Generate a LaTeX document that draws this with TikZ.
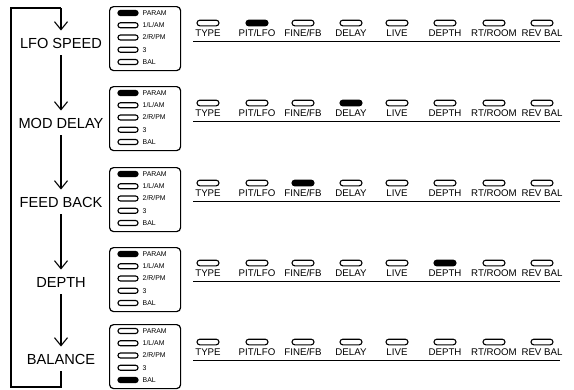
\documentclass[tikz,border=0pt]{standalone}
\usepackage{fontspec}
\setmainfont{Liberation Sans}
\usetikzlibrary{arrows.meta}
\tikzset{
  modelabel/.style={font=\fontsize{14.6}{16}\selectfont, inner xsep=0pt, inner ysep=7pt, text height=10.5pt, text depth=0pt},
  arr/.style={line width=1.1pt, -{Straight Barb[length=8pt,width=13pt,line width=1.1pt]}},
  flowline/.style={line width=1.1pt},
  panelbox/.style={draw, line width=1.2pt, rounded corners=4pt, minimum width=71pt, minimum height=64pt, inner sep=0pt, anchor=north west},
  boxledoff/.style={draw, line width=1.1pt, rounded corners=2.4pt, minimum width=20pt, minimum height=5pt, inner sep=0pt},
  boxledon/.style={boxledoff, fill=black},
  boxtag/.style={font=\fontsize{6.9}{7}\selectfont, inner sep=0pt, anchor=west},
  ledoff/.style={draw, line width=1.1pt, rounded corners=2.8pt, minimum width=22pt, minimum height=5.6pt, inner sep=0pt},
  ledon/.style={ledoff, fill=black},
  ledtag/.style={font=\fontsize{9.7}{10}\selectfont, inner sep=0pt},
  rule/.style={line width=1pt}
}
\begin{document}
\begin{tikzpicture}[x=1pt,y=-1pt]
\useasboundingbox[fill=white] (0,0) rectangle (574,389);
% rows: index / label y / box top / right led y / label / lit box item / lit right led
\foreach \r/\yl/\yb/\yr/\txt/\boxlit/\ledlit in {
  1/43/6/23/{LFO SPEED}/1/2,
  2/123/86/103/{MOD DELAY}/1/4,
  3/202/167/183/{FEED BACK}/1/3,
  4/282/247/263/{DEPTH}/1/6,
  5/359/324/342/{BALANCE}/5/0}{
  \node[modelabel] (lab\r) at (61,\yl) {\txt};
  \node[panelbox] (box\r) at (109,\yb) {};
  \foreach \k/\t in {1/PARAM,2/{1/L/AM},3/{2/R/PM},4/3,5/BAL}{
    \pgfmathsetmacro\yy{\yb+7+12.25*(\k-1)}
    \ifnum\k=\boxlit\def\st{boxledon}\else\def\st{boxledoff}\fi
    \node[\st] (bl\r-\k) at (128,\yy) {};
    \node[boxtag] (bt\r-\k) at (142.5,\yy) {\t};
  }
  \foreach \j/\x/\t in {1/208/TYPE,2/257/{PIT/LFO},3/303/{FINE/FB},4/351/DELAY,5/397/LIVE,6/445/DEPTH,7/494/{RT/ROOM},8/542/{REV BAL}}{
    \ifnum\j=\ledlit\def\st{ledon}\else\def\st{ledoff}\fi
    \node[\st] (led\r-\j) at (\x,\yr) {};
    \node[ledtag] (tag\r-\j) at (\x,\yr+10) {\t};
  }
  \coordinate (rl\r) at (193,\yr+18.5);
  \coordinate (rr\r) at (560,\yr+18.5);
  \draw[rule] (rl\r) -- (rr\r);
}
% flow arrows
\draw[arr] (lab1.south) -- (lab2.north);
\draw[arr] (lab2.south) -- (lab3.north);
\draw[arr] (lab3.south) -- (lab4.north);
\draw[arr] (lab4.south) -- (lab5.north);
% return loop
\coordinate (cb1) at (61,387);
\coordinate (cb2) at (11,387);
\coordinate (ct2) at (11,8);
\coordinate (ct1) at (61,8);
\draw[flowline] (lab5.south) -- (cb1) -- (cb2) -- (ct2) -- (ct1);
\draw[arr] (ct1) -- (lab1.north);
\end{tikzpicture}
\end{document}
